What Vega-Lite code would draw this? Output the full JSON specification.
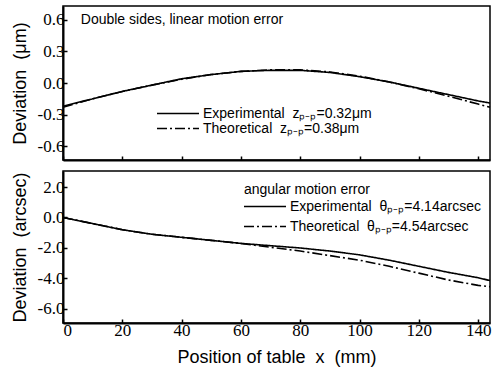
{
  "$schema": "https://vega.github.io/schema/vega-lite/v6.json",
  "padding": {"left": 10, "top": 5, "right": 2, "bottom": 5},
  "spacing": 8,
  "config": {
    "view": {"stroke": "black", "strokeWidth": 1.5},
    "axis": {
      "domainColor": "black", "domainWidth": 2,
      "tickColor": "black", "tickSize": -4, "tickWidth": 1.5,
      "grid": false, "labelOverlap": false, "labelBound": false,
      "labelFont": "Liberation Serif", "labelFontSize": 17, "labelColor": "black", "labelPadding": 3,
      "titleFont": "Liberation Sans", "titleFontSize": 18, "titleFontWeight": "normal", "titleColor": "black"
    },
    "legend": {
      "labelFont": "Liberation Sans", "labelFontSize": 14, "labelColor": "black", "labelLimit": 0,
      "symbolType": "stroke", "symbolSize": 1764, "symbolStrokeColor": "black", "symbolStrokeWidth": 1.5,
      "clipHeight": 15, "labelOffset": 3, "padding": 0
    }
  },
  "resolve": {"scale": {"strokeDash": "independent", "y": "independent"}, "legend": {"strokeDash": "independent"}},
  "vconcat": [
    {
      "width": 427, "height": 154,
      "encoding": {
        "x": {"field": "x", "type": "quantitative", "scale": {"domain": [0, 144], "nice": false},
              "axis": {"values": [0, 20, 40, 60, 80, 100, 120, 140], "labels": false, "title": null}},
        "y": {"field": "y", "type": "quantitative", "scale": {"domain": [-0.73, 0.73], "nice": false},
              "axis": {"values": [-0.6, -0.3, 0, 0.3, 0.6], "labelOverlap": false, "labelExpr": "replace(format(datum.value, '.1f'), '\u2212', '-')",
                       "labelFont": "Liberation Serif",
                       "title": "Deviation\u00a0\u00a0(\u03bcm)", "titlePadding": 8}}
      },
      "layer": [
        {
          "data": {"values": [
            {"x": 0, "y": -0.22, "s": "Experimental"}, {"x": 10, "y": -0.15, "s": "Experimental"},
            {"x": 20, "y": -0.08, "s": "Experimental"}, {"x": 30, "y": -0.02, "s": "Experimental"},
            {"x": 40, "y": 0.04, "s": "Experimental"}, {"x": 50, "y": 0.08, "s": "Experimental"},
            {"x": 60, "y": 0.11, "s": "Experimental"}, {"x": 70, "y": 0.12, "s": "Experimental"},
            {"x": 80, "y": 0.12, "s": "Experimental"}, {"x": 90, "y": 0.10, "s": "Experimental"},
            {"x": 100, "y": 0.06, "s": "Experimental"}, {"x": 110, "y": 0.01, "s": "Experimental"},
            {"x": 120, "y": -0.05, "s": "Experimental"}, {"x": 130, "y": -0.11, "s": "Experimental"},
            {"x": 140, "y": -0.17, "s": "Experimental"}, {"x": 144, "y": -0.19, "s": "Experimental"},
            {"x": 0, "y": -0.23, "s": "Theoretical"}, {"x": 10, "y": -0.15, "s": "Theoretical"},
            {"x": 20, "y": -0.08, "s": "Theoretical"}, {"x": 30, "y": -0.02, "s": "Theoretical"},
            {"x": 40, "y": 0.035, "s": "Theoretical"}, {"x": 50, "y": 0.08, "s": "Theoretical"},
            {"x": 60, "y": 0.11, "s": "Theoretical"}, {"x": 70, "y": 0.125, "s": "Theoretical"},
            {"x": 80, "y": 0.125, "s": "Theoretical"}, {"x": 90, "y": 0.105, "s": "Theoretical"},
            {"x": 100, "y": 0.065, "s": "Theoretical"}, {"x": 110, "y": 0.01, "s": "Theoretical"},
            {"x": 120, "y": -0.055, "s": "Theoretical"}, {"x": 130, "y": -0.125, "s": "Theoretical"},
            {"x": 140, "y": -0.20, "s": "Theoretical"}, {"x": 144, "y": -0.23, "s": "Theoretical"}
          ]},
          "mark": {"type": "line", "color": "black", "strokeWidth": 1.6},
          "encoding": {
            "strokeDash": {"field": "s", "type": "nominal",
              "scale": {"domain": ["Experimental", "Theoretical"], "range": [[1, 0], [10, 3, 2, 3]]},
              "legend": {"title": null, "orient": "none", "legendX": 93, "legendY": 100, "rowPadding": 0,
                         "labelExpr": "datum.label == 'Experimental' ? 'Experimental\u00a0\u00a0z\u209a\u208b\u209a=0.32\u03bcm' : 'Theoretical\u00a0\u00a0z\u209a\u208b\u209a=0.38\u03bcm'"}}
          }
        },
        {
          "data": {"values": [{"x": 6, "y": 0.6, "t": "Double sides, linear motion error"}]},
          "mark": {"type": "text", "align": "left", "baseline": "middle", "fontSize": 14, "font": "Liberation Sans", "color": "black"},
          "encoding": {"text": {"field": "t"}}
        }
      ]
    },
    {
      "width": 427, "height": 152,
      "encoding": {
        "x": {"field": "x", "type": "quantitative", "scale": {"domain": [0, 144], "nice": false},
              "axis": {"values": [0, 20, 40, 60, 80, 100, 120, 140], "labelOverlap": false, "labelFont": "Liberation Serif",
                       "title": "Position of table\u00a0\u00a0x\u00a0\u00a0(mm)", "titlePadding": 10}},
        "y": {"field": "y", "type": "quantitative", "scale": {"domain": [-6.92, 3.05], "nice": false},
              "axis": {"values": [-6, -4, -2, 0, 2], "labelOverlap": false, "labelExpr": "replace(format(datum.value, '.1f'), '\u2212', '-')",
                       "labelFont": "Liberation Serif",
                       "title": "Deviation\u00a0\u00a0(arcsec)", "titlePadding": 8}}
      },
      "layer": [
        {
          "data": {"values": [
            {"x": 0, "y": 0.0, "s": "Experimental"}, {"x": 10, "y": -0.4, "s": "Experimental"},
            {"x": 20, "y": -0.8, "s": "Experimental"}, {"x": 30, "y": -1.1, "s": "Experimental"},
            {"x": 40, "y": -1.3, "s": "Experimental"}, {"x": 50, "y": -1.5, "s": "Experimental"},
            {"x": 60, "y": -1.7, "s": "Experimental"}, {"x": 70, "y": -1.85, "s": "Experimental"},
            {"x": 80, "y": -2.0, "s": "Experimental"}, {"x": 90, "y": -2.2, "s": "Experimental"},
            {"x": 100, "y": -2.45, "s": "Experimental"}, {"x": 110, "y": -2.8, "s": "Experimental"},
            {"x": 120, "y": -3.2, "s": "Experimental"}, {"x": 130, "y": -3.6, "s": "Experimental"},
            {"x": 140, "y": -3.95, "s": "Experimental"}, {"x": 144, "y": -4.14, "s": "Experimental"},
            {"x": 0, "y": 0.0, "s": "Theoretical"}, {"x": 10, "y": -0.4, "s": "Theoretical"},
            {"x": 20, "y": -0.8, "s": "Theoretical"}, {"x": 30, "y": -1.1, "s": "Theoretical"},
            {"x": 40, "y": -1.3, "s": "Theoretical"}, {"x": 50, "y": -1.5, "s": "Theoretical"},
            {"x": 60, "y": -1.7, "s": "Theoretical"}, {"x": 70, "y": -1.95, "s": "Theoretical"},
            {"x": 80, "y": -2.2, "s": "Theoretical"}, {"x": 90, "y": -2.5, "s": "Theoretical"},
            {"x": 100, "y": -2.8, "s": "Theoretical"}, {"x": 110, "y": -3.2, "s": "Theoretical"},
            {"x": 120, "y": -3.65, "s": "Theoretical"}, {"x": 130, "y": -4.1, "s": "Theoretical"},
            {"x": 140, "y": -4.45, "s": "Theoretical"}, {"x": 144, "y": -4.54, "s": "Theoretical"}
          ]},
          "mark": {"type": "line", "color": "black", "strokeWidth": 1.6},
          "encoding": {
            "strokeDash": {"field": "s", "type": "nominal",
              "scale": {"domain": ["Experimental", "Theoretical"], "range": [[1, 0], [10, 3, 2, 3]]},
              "legend": {"title": null, "orient": "none", "legendX": 180, "legendY": 28, "rowPadding": 5,
                         "labelExpr": "datum.label == 'Experimental' ? 'Experimental\u00a0\u00a0\u03b8\u209a\u208b\u209a=4.14arcsec' : 'Theoretical\u00a0\u00a0\u03b8\u209a\u208b\u209a=4.54arcsec'"}}
          }
        },
        {
          "data": {"values": [{"x": 61, "y": 1.8, "t": "angular motion error"}]},
          "mark": {"type": "text", "align": "left", "baseline": "middle", "fontSize": 14, "font": "Liberation Sans", "color": "black"},
          "encoding": {"text": {"field": "t"}}
        }
      ]
    }
  ]
}
